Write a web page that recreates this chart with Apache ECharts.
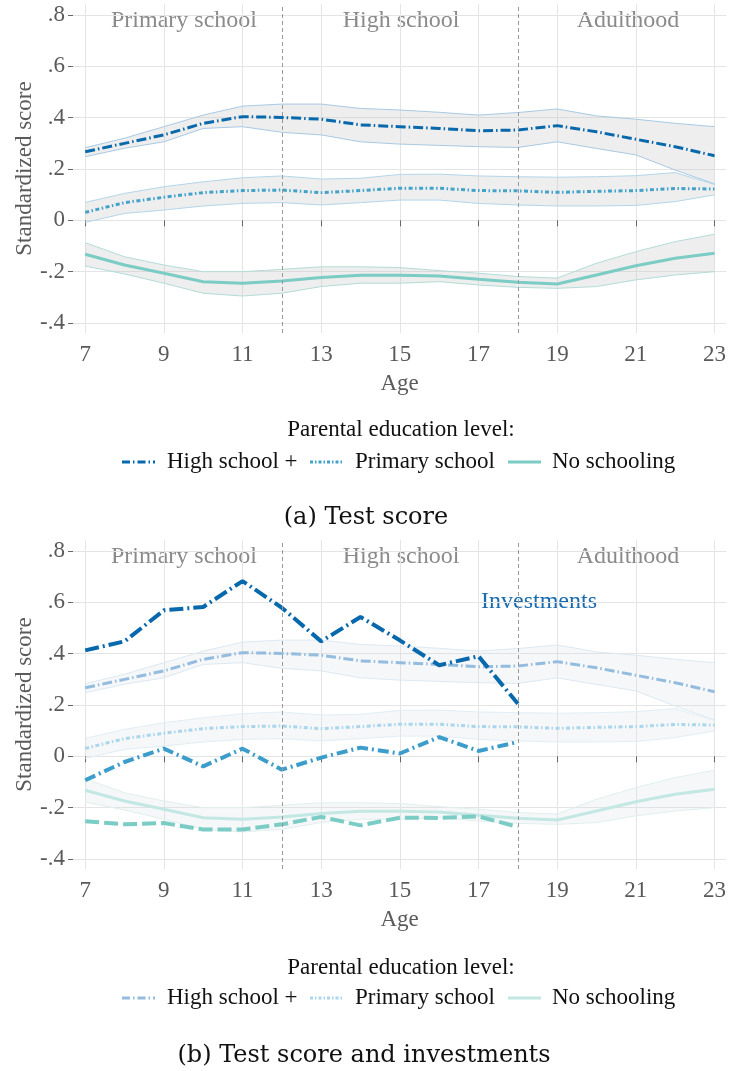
<!DOCTYPE html>
<html><head><meta charset="utf-8">
<script src="https://cdn.jsdelivr.net/npm/echarts@6/dist/echarts.min.js"></script>
<style>html,body{margin:0;padding:0;background:#fff}#c{width:729px;height:1071px}</style>
</head><body><div id="c"></div><script>
// ---- data ----
const ages = [7,8,9,10,11,12,13,14,15,16,17,18,19,20,21,22,23];
const hsScore = [0.267,0.300,0.333,0.378,0.404,0.401,0.394,0.372,0.365,0.358,0.349,0.352,0.369,0.345,0.316,0.287,0.252];
const hsHigh  = [0.283,0.320,0.365,0.410,0.445,0.453,0.453,0.436,0.430,0.421,0.410,0.420,0.434,0.407,0.394,0.378,0.365];
const hsLow   = [0.248,0.281,0.306,0.358,0.365,0.343,0.333,0.306,0.297,0.292,0.287,0.284,0.306,0.280,0.255,0.196,0.142];
const primScore = [0.031,0.069,0.090,0.108,0.116,0.118,0.108,0.116,0.125,0.125,0.116,0.115,0.109,0.113,0.116,0.124,0.122];
const primHigh  = [0.070,0.105,0.131,0.150,0.166,0.173,0.161,0.164,0.179,0.180,0.173,0.170,0.168,0.170,0.174,0.186,0.140];
const primLow   = [-0.008,0.027,0.040,0.056,0.066,0.069,0.060,0.069,0.079,0.079,0.066,0.060,0.056,0.056,0.058,0.073,0.099];
const noScore = [-0.132,-0.174,-0.206,-0.239,-0.245,-0.236,-0.223,-0.214,-0.214,-0.217,-0.230,-0.241,-0.248,-0.213,-0.177,-0.148,-0.128];
const noHigh  = [-0.087,-0.142,-0.174,-0.200,-0.200,-0.191,-0.181,-0.181,-0.184,-0.196,-0.206,-0.219,-0.225,-0.167,-0.122,-0.083,-0.054];
const noLow   = [-0.178,-0.209,-0.245,-0.284,-0.295,-0.284,-0.258,-0.245,-0.245,-0.239,-0.252,-0.261,-0.265,-0.258,-0.232,-0.213,-0.200];
const invAges = [7,8,9,10,11,12,13,14,15,16,17,18];
const hsInv   = [0.413,0.448,0.569,0.582,0.683,0.579,0.448,0.543,0.452,0.355,0.390,0.205];
const primInv = [-0.093,-0.022,0.030,-0.039,0.030,-0.052,-0.005,0.034,0.011,0.075,0.021,0.056];
const noInv   = [-0.253,-0.265,-0.260,-0.285,-0.285,-0.265,-0.236,-0.269,-0.239,-0.240,-0.234,-0.275];
const xTicks = [7,9,11,13,15,17,19,21,23];
const yTicks = [-0.4,-0.2,0,0.2,0.4,0.6,0.8];
const stageBounds = [12,18];
const stageNames = ['Primary school','High school','Adulthood'];
const groupNames = ['High school +','Primary school','No schooling'];
const legendTitle = 'Parental education level:';
const captions = ['(a) Test score','(b) Test score and investments'];
const investLabel = 'Investments';

// ---- style ----
const SERIF = '"Liberation Serif", "Times New Roman", serif';
const CAPF = '"DejaVu Serif", serif';
const C_HS = '#0868ac', C_PR = '#43a2ca', C_NO = '#7bccc4';
const F_HS = '#93bcdf', F_PR = '#a9d6ec', F_NO = '#c3e7e3';
const D_HS = [10,3,1.5,3], D_PR = [4,2.5,1.5,2.5];

const chart = echarts.init(document.getElementById('c'), null, {renderer:'canvas'});
const pair = (xs, ys) => xs.map((x,i)=>[x, ys[i]]);
function fmtY(v){ if (Math.abs(v) < 1e-9) return '0'; return (v<0?'-':'') + Math.abs(v).toFixed(1).replace(/^0/,''); }

function band(g, lo, hi, fill, stroke) {
  return {
    type:'custom', xAxisIndex:g, yAxisIndex:g, silent:true, z:1,
    data: ages.map((a,i)=>[a, lo[i], hi[i]]),
    encode:{x:0, y:[1,2]},
    renderItem(params, api){
      if (params.dataIndex !== 0) return null;
      const n = params.dataInsideLength;
      const up = [], dn = [];
      for (let i=0;i<n;i++){
        up.push(api.coord([api.value(0,i), api.value(2,i)]));
        dn.push(api.coord([api.value(0,i), api.value(1,i)]));
      }
      return {type:'group', children:[
        {type:'polygon', shape:{points: up.concat(dn.slice().reverse())}, style:{fill: fill}},
        {type:'polyline', shape:{points: up}, style:{stroke: stroke, lineWidth:1, fill:null}},
        {type:'polyline', shape:{points: dn}, style:{stroke: stroke, lineWidth:1, fill:null}}
      ]};
    }
  };
}
function line(g, xs, ys, color, width, dash, z, withMark) {
  const s = {
    type:'line', xAxisIndex:g, yAxisIndex:g, data: pair(xs, ys), symbol:'none', z: z,
    lineStyle:{color: color, width: width, type: dash}, silent:true
  };
  if (withMark) s.markLine = {silent:true, symbol:'none', label:{show:false},
    lineStyle:{color:'#999', type:[4,3], width:1}, data: stageBounds.map(x=>({xAxis:x}))};
  return s;
}
function xAxisOf(g){
  return {type:'value', gridIndex:g, min:6.69, max:23.3,
    axisLine:{show:false},
    axisTick:{show:true, length:6, customValues:xTicks, lineStyle:{color:'#666'}},
    axisLabel:{customValues:xTicks, fontFamily:SERIF, fontSize:23, color:'#5a5a5a', margin:10},
    splitLine:{show:true, lineStyle:{color:'#e4e4e4', width:1}},
    name:'Age', nameLocation:'middle', nameGap:39, nameMoveOverlap:false,
    nameTextStyle:{fontFamily:SERIF, fontSize:23, color:'#5a5a5a'}};
}
function yAxisOf(g){
  return {type:'value', gridIndex:g, min:-0.439, max:0.843,
    axisLine:{show:false},
    axisTick:{show:true, length:5, customValues:yTicks, lineStyle:{color:'#666'}},
    axisLabel:{customValues:yTicks, formatter:fmtY, fontFamily:SERIF, fontSize:23, color:'#5a5a5a', margin:8},
    splitLine:{show:true, lineStyle:{color:'#e4e4e4', width:1}},
    name:'Standardized score', nameLocation:'middle', nameGap:37, nameMoveOverlap:false,
    nameTextStyle:{fontFamily:SERIF, fontSize:23, color:'#5a5a5a'}};
}

const series = [
  band(0, hsLow, hsHigh, 'rgba(200,200,200,0.3)', '#a9c9e4'),
  band(0, primLow, primHigh, 'rgba(200,200,200,0.3)', '#b3d6ea'),
  band(0, noLow, noHigh, 'rgba(200,200,200,0.3)', '#b3dcd7'),
  line(0, ages, hsScore, C_HS, 3, D_HS, 3, true),
  line(0, ages, primScore, C_PR, 3, D_PR, 3, false),
  line(0, ages, noScore, C_NO, 3, 'solid', 3, false),
  band(1, hsLow, hsHigh, 'rgba(215,220,228,0.22)', '#dde9f3'),
  band(1, primLow, primHigh, 'rgba(215,220,228,0.22)', '#e1eef6'),
  band(1, noLow, noHigh, 'rgba(215,220,228,0.22)', '#e0f0ee'),
  line(1, ages, hsScore, F_HS, 3, D_HS, 3, true),
  line(1, ages, primScore, F_PR, 3, D_PR, 3, false),
  line(1, ages, noScore, F_NO, 3, 'solid', 3, false),
  line(1, invAges, hsInv, C_HS, 4, [14,4,2,4], 4, false),
  line(1, invAges, primInv, '#3c9dcb', 4, [11,4,2,4], 4, false),
  line(1, invAges, noInv, C_NO, 4, [14,5], 4, false)
];

function txt(x, y, text, opt){
  return Object.assign({type:'text', x:x, y:y, silent:true,
    style:Object.assign({text:text, fontFamily:SERIF, fontSize:23, fill:'#111', align:'center', verticalAlign:'middle'}, opt||{})});
}
function legendBlock(yTitle, yItems, colors, widths){
  const els = [txt(401, yTitle, legendTitle)];
  const iconX = [122, 310, 508], textX = [167, 355, 552];
  const dashes = [[8,3,1.5,3], [3,2,1.5,2], null];
  for (let i=0;i<3;i++){
    els.push({type:'line', silent:true, shape:{x1:iconX[i], y1:yItems, x2:iconX[i]+33, y2:yItems},
      style:{stroke:colors[i], lineWidth:widths, lineDash:dashes[i]}});
    els.push(txt(textX[i], yItems, groupNames[i], {align:'left'}));
  }
  return els;
}
const headerX = [184, 401, 628];
const graphics = [];
[21, 557].forEach(y => stageNames.forEach((n,i)=>graphics.push(txt(headerX[i], y, n, {fill:'#8a8a8a', fontSize:24}))));
graphics.push(txt(539, 602, investLabel, {fill:'#1a6bad', fontSize:24}));
graphics.push(...legendBlock(430, 462, [C_HS, C_PR, C_NO], 3));
graphics.push(...legendBlock(968, 998, [F_HS, F_PR, F_NO], 3));
graphics.push(txt(366, 518, captions[0], {fontFamily:CAPF, fontSize:24}));
graphics.push(txt(364, 1056, captions[1], {fontFamily:CAPF, fontSize:24}));

chart.setOption({
  animation:false,
  backgroundColor:'#fff',
  grid:[{left:73, top:4, width:656, height:329}, {left:73, top:540, width:656, height:329}],
  xAxis:[xAxisOf(0), xAxisOf(1)],
  yAxis:[yAxisOf(0), yAxisOf(1)],
  series: series,
  graphic: graphics
});
</script></body></html>
